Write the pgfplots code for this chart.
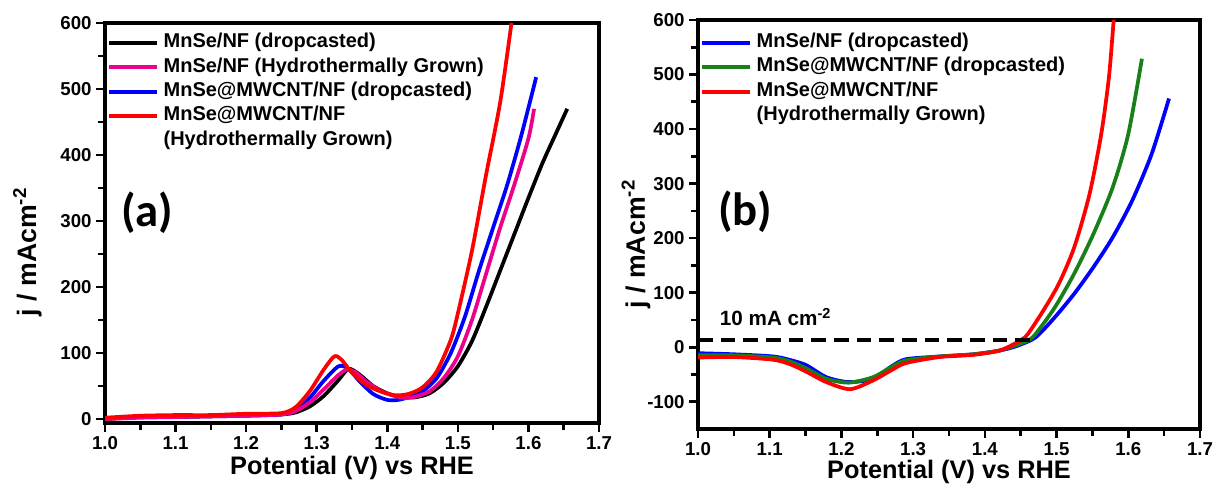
\documentclass[border=0pt]{standalone}
\usepackage{fontspec}
\setmainfont{Liberation Sans}
\newfontfamily\calfont{Carlito}
\usepackage{pgfplots}
\pgfplotsset{compat=1.18}

\definecolor{dgreen}{rgb}{0.1,0.5,0.1}

\pgfplotsset{
  lsv/.style={
    scale only axis, anchor=north west,
    xmin=1.0, xmax=1.7,
    xtick={1.0,1.1,1.2,1.3,1.4,1.5,1.6,1.7},
    minor x tick num=1, minor y tick num=1,
    xticklabel style={/pgf/number format/.cd, fixed, fixed zerofill, precision=1},
    /pgf/number format/assume math mode=true,
    tick label style={font=\fontsize{14}{16}\selectfont\bfseries},
    axis line style={line width=3pt},
    every tick/.style={black, line width=2pt},
    tick align=outside, xtick pos=bottom, ytick pos=left,
    major tick length=6.5pt, minor tick length=5pt,
    xlabel={Potential (V) vs RHE},
    ylabel={j / mAcm\textsuperscript{-2}},
    xlabel style={font=\fontsize{19}{22}\selectfont\bfseries, anchor=center},
    ylabel style={font=\fontsize{20}{24}\selectfont\bfseries, anchor=center},
    legend cell align=left,
    legend image code/.code={\draw[#1, line width=2.8pt] (0pt,0pt) -- (36pt,0pt);},
    legend style={draw=none, fill=none, anchor=north west,
      font=\fontsize{15}{17}\selectfont\bfseries,
      row sep=2.3pt, inner sep=0pt,
      nodes={inner sep=1pt, text height=10.5pt, text depth=3.5pt},
      /tikz/every odd column/.append style={column sep=2.5pt}},
    every axis plot/.append style={line width=2.8pt, line join=round, smooth, tension=0.45},
  }
}

\begin{document}
\begin{tikzpicture}
\path[use as bounding box] (0pt,0pt) rectangle (912.75pt,-363.75pt);

% panel (a)
\begin{axis}[lsv,
    at={(78.75pt,-17.25pt)}, width=370.5pt, height=300pt,
    ymin=-6, ymax=600, ytick={0,100,200,300,400,500,600},
    xlabel style={at={(axis description cs:0.5,0)}, yshift=-34pt},
    ylabel style={at={(axis description cs:-0.157,0.4275)}},
    legend style={at={(axis description cs:0.004,0.9775)}},
]
\addlegendimage{black}
\addlegendentry{MnSe/NF (dropcasted)}
\addlegendimage{magenta}
\addlegendentry{MnSe/NF (Hydrothermally Grown)}
\addlegendimage{blue}
\addlegendentry{MnSe@MWCNT/NF (dropcasted)}
\addlegendimage{red}
\addlegendentry{MnSe@MWCNT/NF}
\addlegendimage{empty legend}
\addlegendentry{(Hydrothermally Grown)}

\addplot[black, forget plot] coordinates {
  (1.00,0) (1.05,3) (1.10,4) (1.15,5) (1.20,6) (1.25,7) (1.27,10) (1.29,19)
  (1.31,35) (1.33,58) (1.345,76) (1.36,68) (1.38,50) (1.40,39) (1.42,33)
  (1.44,33) (1.46,39) (1.48,55) (1.50,80) (1.52,118) (1.54,170) (1.56,225)
  (1.58,280) (1.60,335) (1.62,388) (1.64,435) (1.655,470)
};
\addplot[blue, forget plot] coordinates {
  (1.00,1) (1.05,3) (1.10,3) (1.15,4) (1.20,5) (1.25,7) (1.27,14) (1.29,32)
  (1.31,58) (1.331,80) (1.345,76) (1.36,58) (1.38,38) (1.40,29) (1.415,29)
  (1.43,33) (1.45,42) (1.47,62) (1.49,100) (1.51,155) (1.53,225) (1.55,290)
  (1.57,355) (1.59,430) (1.611,518)
};
\addplot[magenta, forget plot] coordinates {
  (1.00,0) (1.05,2) (1.10,3) (1.15,4) (1.20,5) (1.25,7) (1.27,12) (1.29,25)
  (1.31,45) (1.33,66) (1.343,75) (1.355,71) (1.37,57) (1.39,43) (1.41,35)
  (1.425,32) (1.44,34) (1.46,42) (1.48,62) (1.50,95) (1.52,150) (1.54,220)
  (1.56,290) (1.58,355) (1.60,425) (1.608,470)
};
\addplot[red, forget plot] coordinates {
  (1.00,2) (1.05,5) (1.10,6) (1.15,6) (1.20,8) (1.25,9) (1.27,18) (1.29,42)
  (1.31,75) (1.325,95) (1.335,90) (1.35,70) (1.37,52) (1.39,42) (1.41,36)
  (1.43,38) (1.45,48) (1.47,72) (1.49,120) (1.50,160) (1.52,255) (1.54,370)
  (1.56,480) (1.576,600)
};
\node[font=\calfont\fontsize{35}{40}\selectfont\bfseries] at (axis cs:1.06,313) {(a)};
\end{axis}

% panel (b)
\begin{axis}[lsv,
    at={(523.5pt,-15pt)}, width=376.5pt, height=306.75pt,
    ymin=-150, ymax=600, ytick={-100,0,100,200,300,400,500,600},
    xlabel style={at={(axis description cs:0.5,0)}, yshift=-32pt},
    ylabel style={at={(axis description cs:-0.1235,0.452)}},
    legend style={at={(axis description cs:0.004,0.9707)}},
]
\addlegendimage{blue}
\addlegendentry{MnSe/NF (dropcasted)}
\addlegendimage{dgreen}
\addlegendentry{MnSe@MWCNT/NF (dropcasted)}
\addlegendimage{red}
\addlegendentry{MnSe@MWCNT/NF}
\addlegendimage{empty legend}
\addlegendentry{(Hydrothermally Grown)}

\addplot[blue, forget plot] coordinates {
  (1.00,-11) (1.05,-13) (1.105,-17) (1.13,-24) (1.151,-33) (1.179,-55)
  (1.21,-64) (1.244,-58) (1.27,-35) (1.29,-22) (1.337,-17) (1.384,-13)
  (1.421,-6) (1.444,2) (1.4706,18) (1.4976,55) (1.5246,98) (1.5515,147)
  (1.5785,202) (1.6055,269) (1.6325,354) (1.6568,456)
};
\addplot[dgreen, forget plot] coordinates {
  (1.00,-15) (1.05,-15) (1.105,-19) (1.13,-27) (1.151,-39) (1.179,-58)
  (1.21,-65) (1.244,-55) (1.27,-36) (1.29,-24) (1.337,-17) (1.384,-13)
  (1.421,-6) (1.444,4) (1.46,12) (1.4706,24) (1.4976,73) (1.5246,135)
  (1.5515,208) (1.5785,294) (1.60,391) (1.619,529)
};
\addplot[red, forget plot] coordinates {
  (1.00,-19) (1.05,-18) (1.105,-23) (1.13,-32) (1.151,-45) (1.179,-64)
  (1.212,-77) (1.244,-61) (1.27,-42) (1.29,-29) (1.337,-18) (1.384,-14)
  (1.421,-6) (1.449,12) (1.4598,24) (1.4814,67) (1.503,116) (1.5246,183)
  (1.546,281) (1.5623,391) (1.573,495) (1.5796,600)
};
\addplot[black, forget plot, sharp plot, line width=2.8pt, dash pattern=on 11pt off 6pt, line cap=butt]
  coordinates {(1.0,13) (1.467,13)};
\node[font=\fontsize{15.5}{18}\selectfont\bfseries, anchor=west] at (axis cs:1.024,55) {10 mA cm\textsuperscript{-2}};
\node[font=\calfont\fontsize{35}{40}\selectfont\bfseries] at (axis cs:1.066,248) {(b)};
\end{axis}
\end{tikzpicture}
\end{document}
